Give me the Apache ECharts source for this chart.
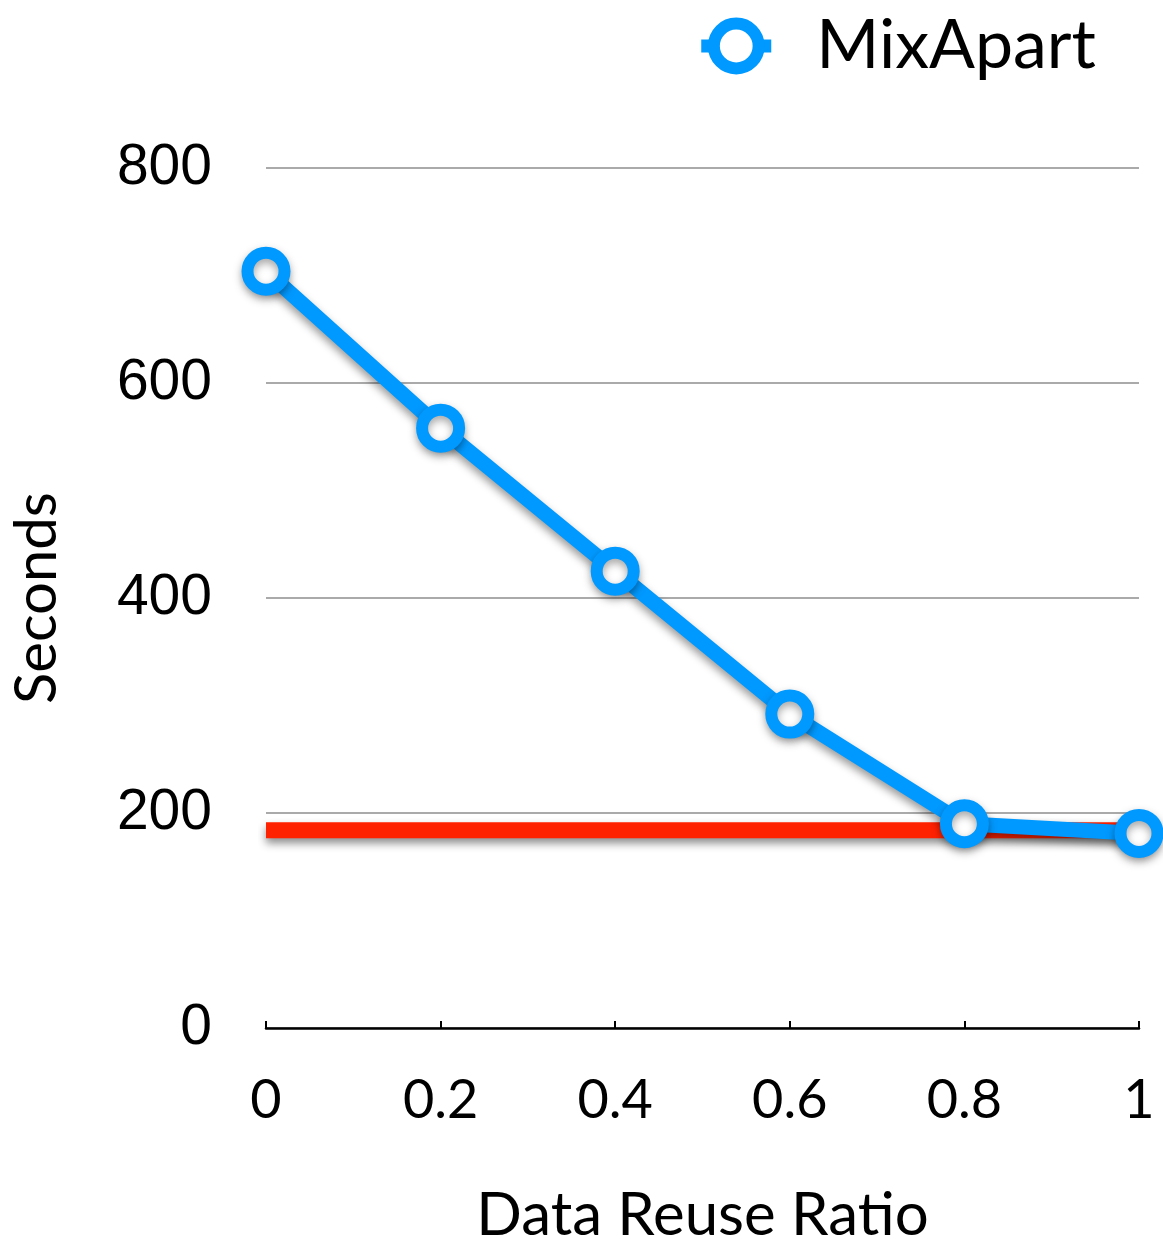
<!DOCTYPE html>
<html>
<head>
<meta charset="utf-8">
<script src="https://cdn.jsdelivr.net/npm/echarts@6/dist/echarts.min.js"></script>
<style>html,body{margin:0;padding:0;background:#fff}#c{width:1163px;height:1239px}</style>
</head>
<body>
<div id="c"></div>
<script>
const reuseRatio = [0, 0.2, 0.4, 0.6, 0.8, 1];
const mixApartSeconds = [704, 558, 425, 292, 190, 181];
const baselineSeconds = [184, 184, 184, 184, 184, 184];
const yTicks = [0, 200, 400, 600, 800];

const chart = echarts.init(document.getElementById('c'));
const font = 'Lato, "Open Sans", sans-serif';
chart.setOption({
  backgroundColor: '#fff',
  animation: false,
  legend: {
    data: ['MixApart'],
    top: 7,
    right: 62,
    itemWidth: 70,
    itemHeight: 56,
    itemGap: 50,
    lineStyle: { width: 13, shadowBlur: 0 },
    itemStyle: { borderWidth: 12, shadowBlur: 0 },
    textStyle: { fontSize: 68, fontFamily: font, color: '#000', padding: [0,0,0,40] }
  },
  grid: { left: 266, right: 24, top: 168, bottom: 211, containLabel: false, outerBoundsMode: 'none' },
  xAxis: {
    type: 'value', min: 0, max: 1, interval: 0.2,
    name: 'Data Reuse Ratio', nameLocation: 'middle', nameGap: 158,
    nameTextStyle: { fontSize: 60, fontFamily: font, color: '#000' },
    axisLine: { lineStyle: { color: '#000', width: 2.5 } },
    axisTick: { inside: true, length: 7, lineStyle: { color: '#000', width: 2 } },
    axisLabel: { fontSize: 54, fontFamily: font, color: '#000', margin: 46,
      formatter: v => String(v) },
    splitLine: { show: false }
  },
  yAxis: {
    type: 'value', min: yTicks[0], max: yTicks[yTicks.length-1], interval: 200,
    name: 'Seconds', nameLocation: 'middle', nameGap: 200, nameRotate: 90,
    nameTextStyle: { fontSize: 58, fontFamily: font, color: '#000' },
    axisLine: { show: false },
    axisTick: { show: false },
    axisLabel: { fontSize: 57, fontFamily: '"Liberation Sans", Arial, sans-serif', color: '#000', margin: 54 },
    splitLine: { lineStyle: { color: '#aaa', width: 2 } }
  },
  series: [
    {
      name: 'Baseline', type: 'line',
      data: reuseRatio.map((x, i) => [x, baselineSeconds[i]]),
      symbol: 'none', clip: false,
      lineStyle: { color: '#ff2200', width: 16, cap: 'butt',
        shadowColor: 'rgba(0,0,0,0.45)', shadowBlur: 8, shadowOffsetY: 5 },
      z: 2
    },
    {
      name: 'MixApart', type: 'line',
      data: reuseRatio.map((x, i) => [x, mixApartSeconds[i]]),
      symbol: 'circle', symbolSize: 37, clip: false,
      itemStyle: { color: '#fff', borderColor: '#0099ff', borderWidth: 12,
        shadowColor: 'rgba(0,0,0,0.35)', shadowBlur: 8, shadowOffsetY: 4 },
      lineStyle: { color: '#0099ff', width: 15,
        shadowColor: 'rgba(0,0,0,0.4)', shadowBlur: 8, shadowOffsetY: 5 },
      z: 3
    }
  ]
});
</script>
</body>
</html>
